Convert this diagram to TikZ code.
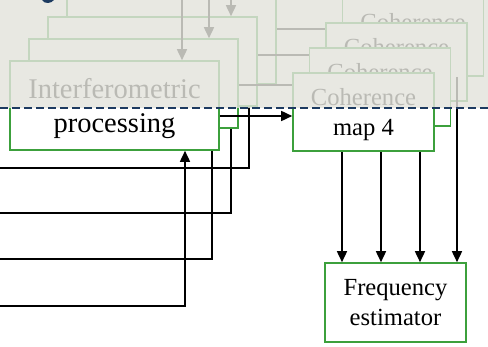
\documentclass[tikz,border=0pt]{standalone}
\usepackage{fontspec}
\setmainfont{Liberation Serif}
\usetikzlibrary{arrows.meta}

\definecolor{boxgreen}{RGB}{60,160,60}
\definecolor{fadegrey}{RGB}{227,227,220}
\definecolor{slidenavy}{RGB}{28,58,96}

% pushes a two line label a little lower in its box
\newcommand\boxstrut[1]{\rule{0pt}{#1}}

\tikzset{
  proc/.style={draw=boxgreen, fill=white, line width=1.6pt, inner sep=0pt,
    minimum width=209pt, minimum height=89pt, align=center,
    font=\fontsize{28.5}{34}\selectfont},
  coh/.style={proc, minimum width=141pt, minimum height=78pt,
    font=\fontsize{24.6}{30}\selectfont},
  wire/.style={line width=1.6pt, -{Triangle[length=11pt,width=10pt]}},
}

\begin{document}
\begin{tikzpicture}[x=1pt, y=-1pt]
        \useasboundingbox (0,0) rectangle (488,347);

        % heights of the wires between the two stacks
        \coordinate (y_1) at (0,116);
        \coordinate (y_2) at (0,85);
        \coordinate (y_3) at (0,55);
        \coordinate (y_4) at (0,29);
        % inputs from the left and where they turn up
        \coordinate (in_1) at (0,306);
        \coordinate (in_2) at (0,259);
        \coordinate (in_3) at (0,213);
        \coordinate (in_4) at (0,168);
        \coordinate (x_1) at (185,0);
        \coordinate (x_2) at (212,0);
        \coordinate (x_3) at (231,0);
        \coordinate (x_4) at (249,0);
        % inputs from above
        \coordinate (t_1) at (182,0);
        \coordinate (t_2) at (209,0);
        \coordinate (t_3) at (231,0);
        % columns into the estimator
        \coordinate (e_1) at (342,0);
        \coordinate (e_2) at (381,0);
        \coordinate (e_3) at (420,0);
        \coordinate (e_4) at (457,0);

        \node[coh, minimum height=79pt] (fe) at (395.5,302.5) {Frequency\\estimator};

        % back of the stacks first
        \node[proc] (p_4) at (171.5,39.5) {};
        \node[coh] (c_4) at (413,37) {\boxstrut{23pt}Coherence\\\phantom{map 4}};

        %p_4 to c_4
        \draw[wire] (p_4.east |- y_4) -- (c_4.west |- y_4);
        \draw[wire] (in_4) -| (x_4 |- p_4.south);

        \node[proc] (p_3) at (152.5,61.5) {};
        \node[coh] (c_3) at (396.5,62) {\boxstrut{23pt}Coherence\\\phantom{map 4}};

        \draw[wire] (t_3) -- (t_3 |- p_3.north);
        %c_4 to estimator
        \draw[wire] (e_4 |- c_4.south) -- (e_4 |- fe.north);
        \draw[wire] (in_3) -| (x_3 |- p_3.south);
        %p_3 to c_3
        \draw[wire] (p_3.east |- y_3) -- (c_3.west |- y_3);

        \node[proc] (p_2) at (133.5,83.5) {};
        \node[coh] (c_2) at (380,87) {\boxstrut{23pt}Coherence\\\phantom{map 4}};

        \draw[wire] (t_2) -- (t_2 |- p_2.north);
        %c_3 to estimator
        \draw[wire] (e_3 |- c_3.south) -- (e_3 |- fe.north);
        %p_2 to c_2
        \draw[wire] (p_2.east |- y_2) -- (c_2.west |- y_2);
        %c_2 to estimator
        \draw[wire] (e_2 |- c_2.south) -- (e_2 |- fe.north);
        \draw[wire] (in_2) -| (x_2 |- p_2.south);

        % front of the stacks
        \node[proc] (p_1) at (114.5,105.5) {\boxstrut{26pt}Interferometric\\processing};
        \node[coh] (c_1) at (363.5,112) {\boxstrut{23pt}Coherence\\map 4};

        \draw[wire] (t_1) -- (t_1 |- p_1.north);
        \draw[wire] (in_1) -| (x_1 |- p_1.south);
        %p_1 to c_1
        \draw[wire] (p_1.east |- y_1) -- (c_1.west |- y_1);
        %c_1 to estimator
        \draw[wire] (e_1 |- c_1.south) -- (e_1 |- fe.north);

        % greyed out upper part
        \fill[fadegrey, opacity=0.82] (0,0) rectangle (488,108);
        \draw[slidenavy, line width=1.6pt, dash pattern=on 8pt off 4pt] (0,108) -- (488,108);
        \fill[slidenavy] (42,0) .. controls (44,4) and (51,4) .. (54,0) -- cycle;
\end{tikzpicture}
\end{document}
